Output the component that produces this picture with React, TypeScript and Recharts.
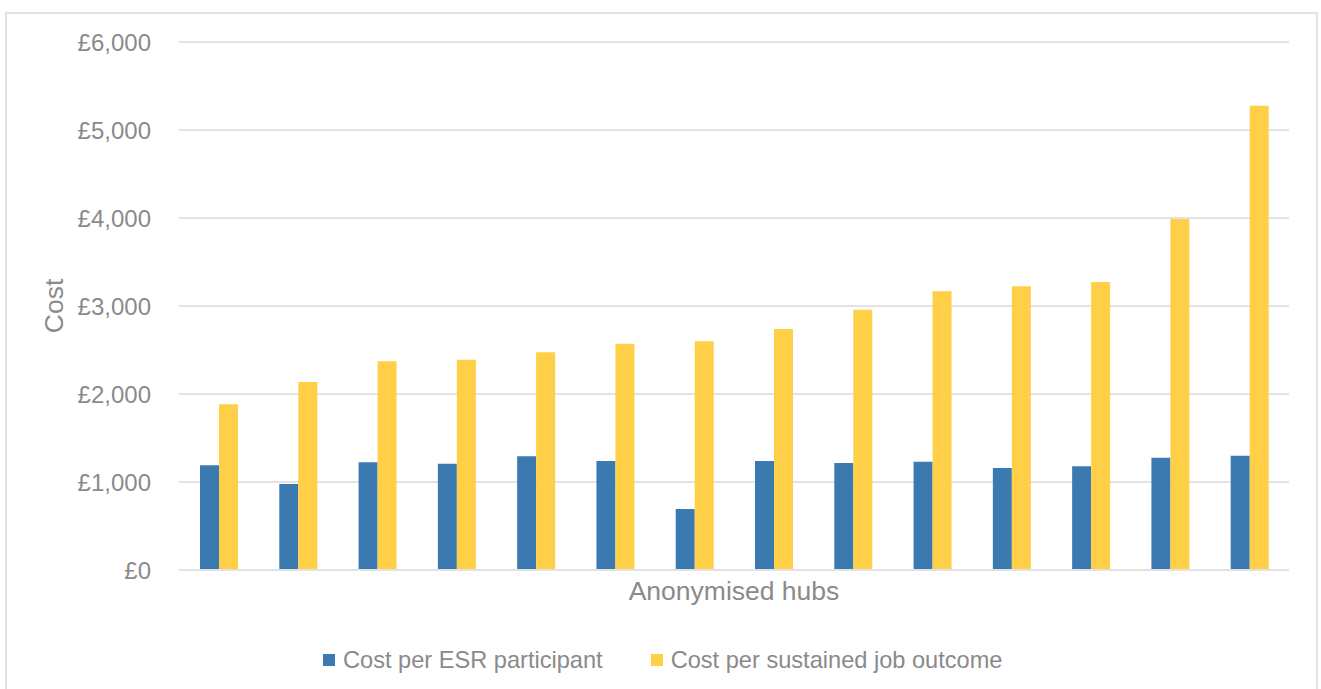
import { Bar, BarChart, CartesianGrid, Label, Legend, XAxis, YAxis } from "recharts";

const hubs = [
  "Hub 1", "Hub 2", "Hub 3", "Hub 4", "Hub 5", "Hub 6", "Hub 7",
  "Hub 8", "Hub 9", "Hub 10", "Hub 11", "Hub 12", "Hub 13", "Hub 14",
];
const costPerParticipant = [
  1190, 977, 1224, 1208, 1292, 1239, 693, 1239, 1216, 1231, 1159, 1178, 1276, 1299,
];
const costPerJobOutcome = [
  1883, 2136, 2372, 2390, 2474, 2572, 2599, 2739, 2958, 3167, 3224, 3273, 3989, 5276,
];
const yTicks = [0, 1000, 2000, 3000, 4000, 5000, 6000];

const BLUE = "#3B7AB0";
const YELLOW = "#FFCF47";
const GRID = "#E2E2E2";
const TEXT = "#8A8A8A";
const FONT = '"Liberation Sans", Arial, sans-serif';

const data = hubs.map((hub, i) => ({
  hub,
  participant: costPerParticipant[i],
  outcome: costPerJobOutcome[i],
}));

function pounds(v: number): string {
  return "£" + String(v).replace(/\B(?=(\d{3})+(?!\d))/g, ",");
}

function LegendContent({ payload }: any) {
  return (
    <div style={{ display: "flex", alignItems: "center", height: 28 }}>
      {(payload || []).map((p: any) => (
        <div
          key={p.value}
          style={{ display: "flex", alignItems: "center", marginRight: 48 }}
        >
          <span
            style={{
              width: 12,
              height: 12,
              background: p.color,
              marginRight: 8,
              display: "inline-block",
            }}
          />
          <span
            style={{
              fontFamily: FONT,
              fontSize: 23.6,
              lineHeight: "28px",
              color: TEXT,
              whiteSpace: "nowrap",
            }}
          >
            {p.value}
          </span>
        </div>
      ))}
    </div>
  );
}

export default function App() {
  return (
    <div
      style={{
        position: "absolute",
        left: 0,
        top: 0,
        width: 1321,
        height: 689,
        overflow: "hidden",
        background: "#fff",
      }}
    >
      <div
        style={{
          position: "absolute",
          left: 5,
          top: 12,
          width: 1313,
          height: 700,
          border: `2px solid ${GRID}`,
          boxSizing: "border-box",
        }}
      />
      <BarChart
        width={1321}
        height={689}
        data={data}
        margin={{ top: 42, right: 32, bottom: 61, left: 0 }}
        barGap={0}
        style={{ position: "absolute", left: 0, top: 0 }}
      >
        <CartesianGrid vertical={false} stroke={GRID} strokeWidth={2} />
        <XAxis
          dataKey="hub"
          height={30}
          tick={false}
          tickLine={false}
          axisLine={{ stroke: GRID, strokeWidth: 2 }}
        >
          <Label
            value="Anonymised hubs"
            position="insideBottom"
            offset={0}
            style={{ fontFamily: FONT, fontSize: 26.5, fill: TEXT }}
          />
        </XAxis>
        <YAxis
          width={179}
          domain={[0, 6000]}
          ticks={yTicks}
          tickFormatter={pounds}
          axisLine={false}
          tickLine={false}
          tickSize={0}
          tickMargin={28}
          tick={{ fontFamily: FONT, fontSize: 24, fill: TEXT }}
        >
          <Label
            content={({ viewBox }: any) => {
              const cx = viewBox.x + 63;
              const cy = viewBox.y + viewBox.height / 2;
              return (
                <text
                  x={cx}
                  y={cy}
                  transform={`rotate(-90 ${cx} ${cy})`}
                  textAnchor="middle"
                  style={{ fontFamily: FONT, fontSize: 26.5, fill: TEXT }}
                >
                  Cost
                </text>
              );
            }}
          />
        </YAxis>
        <Legend
          verticalAlign="bottom"
          content={<LegendContent />}
          wrapperStyle={{ left: 323, top: 646, width: 900, height: 28 }}
        />
        <Bar
          dataKey="participant"
          name="Cost per ESR participant"
          fill={BLUE}
          barSize={19}
          isAnimationActive={false}
        />
        <Bar
          dataKey="outcome"
          name="Cost per sustained job outcome"
          fill={YELLOW}
          barSize={19}
          isAnimationActive={false}
        />
      </BarChart>
    </div>
  );
}
